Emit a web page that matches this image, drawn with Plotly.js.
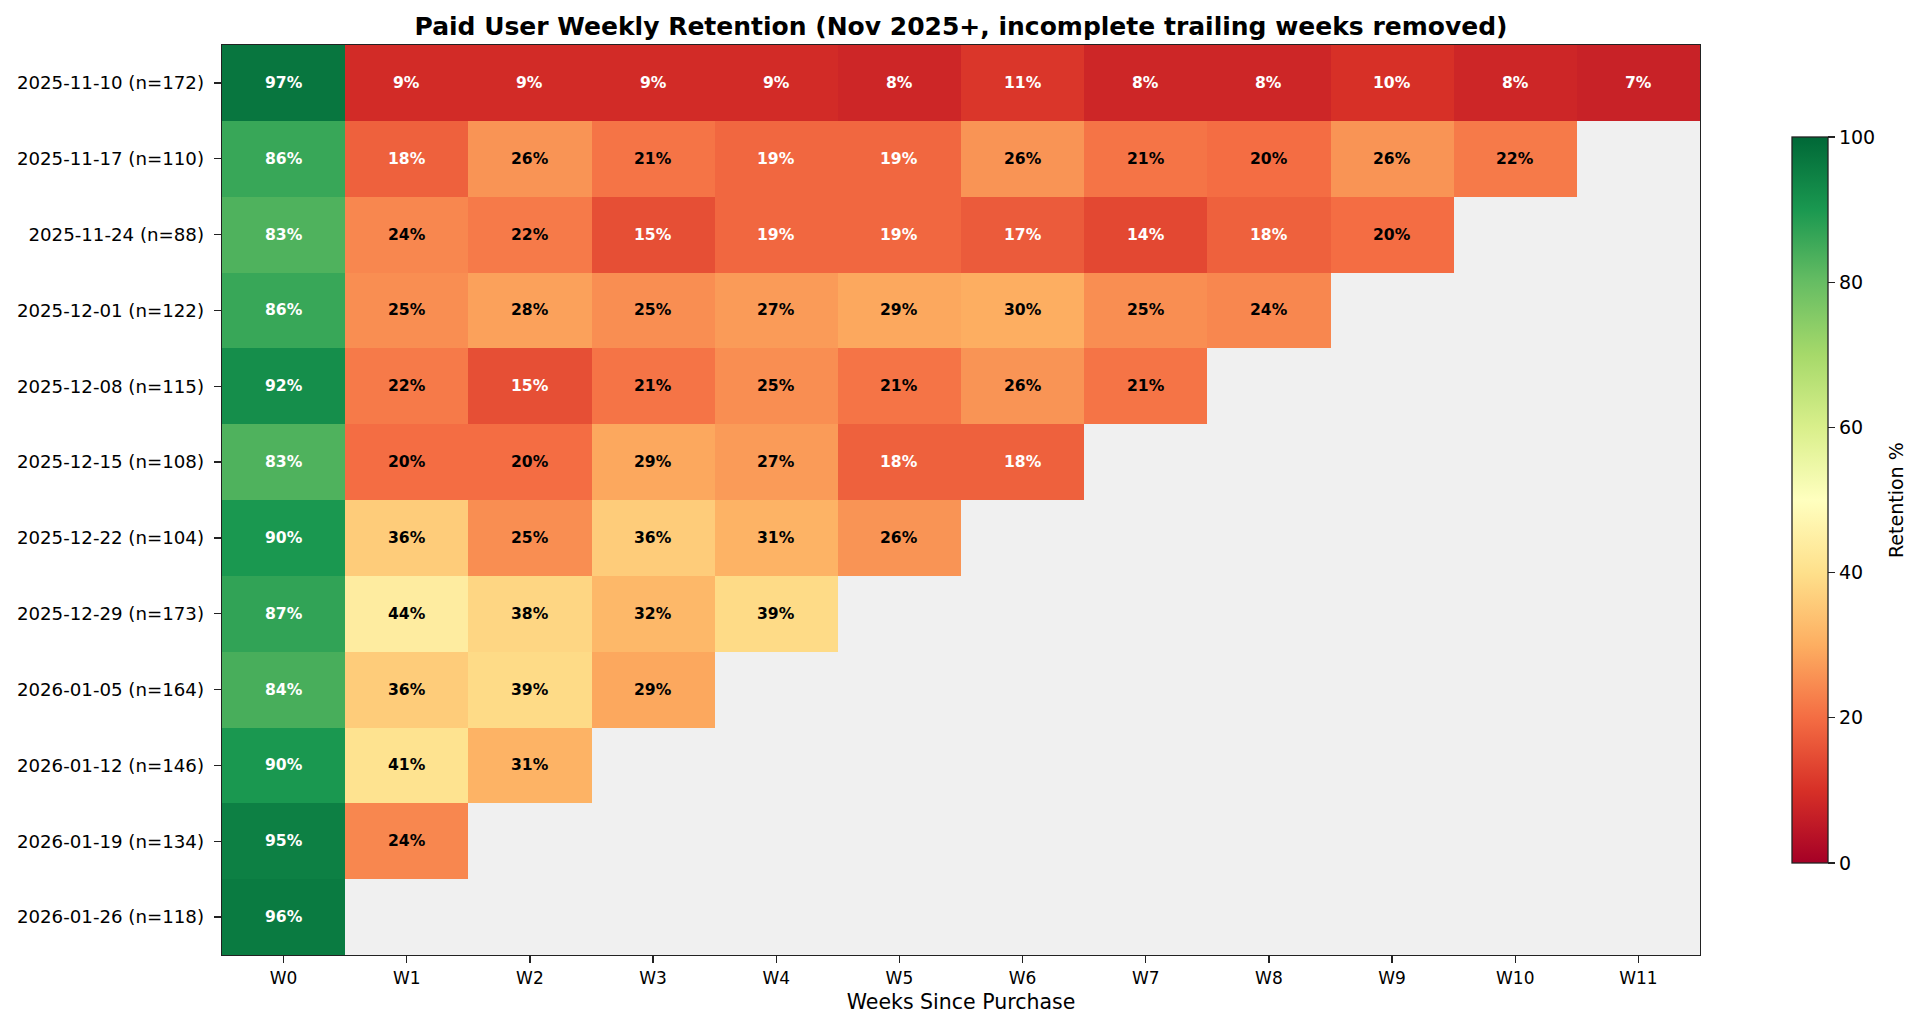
<!DOCTYPE html>
<html>
<head>
<meta charset="utf-8">
<script src="https://cdn.plot.ly/plotly-3.0.1.min.js"></script>
<style>html,body{margin:0;padding:0;background:#fff;}#chart{width:1926px;height:1031px;}</style>
</head>
<body>
<div id="chart"></div>
<script>
const weeks = ["W0","W1","W2","W3","W4","W5","W6","W7","W8","W9","W10","W11"];
const cohorts = [
  "2025-11-10 (n=172)","2025-11-17 (n=110)","2025-11-24 (n=88)","2025-12-01 (n=122)",
  "2025-12-08 (n=115)","2025-12-15 (n=108)","2025-12-22 (n=104)","2025-12-29 (n=173)",
  "2026-01-05 (n=164)","2026-01-12 (n=146)","2026-01-19 (n=134)","2026-01-26 (n=118)"
];
const r1110 = [97, 9, 9, 9, 9, 8, 11, 8, 8, 10, 8, 7];
const r1117 = [86, 18, 26, 21, 19, 19, 26, 21, 20, 26, 22];
const r1124 = [83, 24, 22, 15, 19, 19, 17, 14, 18, 20];
const r1201 = [86, 25, 28, 25, 27, 29, 30, 25, 24];
const r1208 = [92, 22, 15, 21, 25, 21, 26, 21];
const r1215 = [83, 20, 20, 29, 27, 18, 18];
const r1222 = [90, 36, 25, 36, 31, 26];
const r1229 = [87, 44, 38, 32, 39];
const r0105 = [84, 36, 39, 29];
const r0112 = [90, 41, 31];
const r0119 = [95, 24];
const r0126 = [96];
const rows = [r1110,r1117,r1124,r1201,r1208,r1215,r1222,r1229,r0105,r0112,r0119,r0126];
const colorbarTicks = [0, 20, 40, 60, 80, 100];

const z = rows.map(r => weeks.map((w,i) => i < r.length ? r[i] : null));

const rdylgn = ["#a50026","#d73027","#f46d43","#fdae61","#fee08b","#ffffbf","#d9ef8b","#a6d96a","#66bd63","#1a9850","#006837"];
const colorscale = rdylgn.map((c,i) => [i/10, c]);

const FONT = "DejaVu Sans, Liberation Sans, sans-serif";

const annotations = [];
rows.forEach((r, yi) => {
  r.forEach((v, xi) => {
    annotations.push({
      x: weeks[xi], y: cohorts[yi], xref: "x", yref: "y",
      text: "<b>" + v + "%</b>", showarrow: false,
      font: {family: FONT, size: 15.6, color: (v < 20 || v > 70) ? "#ffffff" : "#000000"}
    });
  });
});
annotations.push({
  x: 1.1326, y: 0.5, xref: "paper", yref: "paper",
  xanchor: "center", yanchor: "middle",
  text: "Retention %", textangle: -90, showarrow: false,
  font: {family: FONT, size: 19, color: "#000"}
});

const trace = {
  type: "heatmap",
  x: weeks, y: cohorts, z: z,
  zmin: 0, zmax: 100,
  colorscale: colorscale,
  hoverongaps: false,
  xgap: 0, ygap: 0,
  colorbar: {
    x: 1.0622, xanchor: "left", xpad: 0,
    y: 0.5, yanchor: "middle", ypad: 0,
    len: 0.798, lenmode: "fraction",
    thickness: 36, thicknessmode: "pixels",
    outlinewidth: 1.3, outlinecolor: "#222",
    tickvals: colorbarTicks,
    ticks: "outside", ticklen: 7, tickwidth: 1.3, tickcolor: "#222",
    tickfont: {family: FONT, size: 19, color: "#000"}
  }
};

const layout = {
  width: 1926, height: 1031,
  margin: {l: 222, r: 226, t: 45, b: 76, pad: 0},
  paper_bgcolor: "#ffffff",
  plot_bgcolor: "#f0f0f0",
  font: {family: FONT, color: "#000"},
  title: {
    text: "<b>Paid User Weekly Retention (Nov 2025+, incomplete trailing weeks removed)</b>",
    font: {family: FONT, size: 25, color: "#000"},
    x: 0.5, xref: "paper", xanchor: "center",
    y: 1 - 26 / 1031, yref: "container", yanchor: "middle"
  },
  xaxis: {
    type: "category", showgrid: false, zeroline: false,
    showline: true, linecolor: "#222", linewidth: 1.3, mirror: true,
    ticks: "outside", ticklen: 7, tickwidth: 1.3, tickcolor: "#222",
    tickfont: {family: FONT, size: 17, color: "#000"},
    title: {text: "Weeks Since Purchase", font: {family: FONT, size: 20.5, color: "#000"}, standoff: 8},
    automargin: false
  },
  yaxis: {
    type: "category", autorange: "reversed", showgrid: false, zeroline: false,
    showline: true, linecolor: "#222", linewidth: 1.3, mirror: true,
    ticks: "outside", ticklen: 7, tickwidth: 1.3, tickcolor: "#222",
    tickfont: {family: FONT, size: 18.2, color: "#000"},
    ticklabelstandoff: 6,
    automargin: false
  },
  annotations: annotations
};

Plotly.newPlot("chart", [trace], layout, {staticPlot: true, displayModeBar: false});
</script>
</body>
</html>
